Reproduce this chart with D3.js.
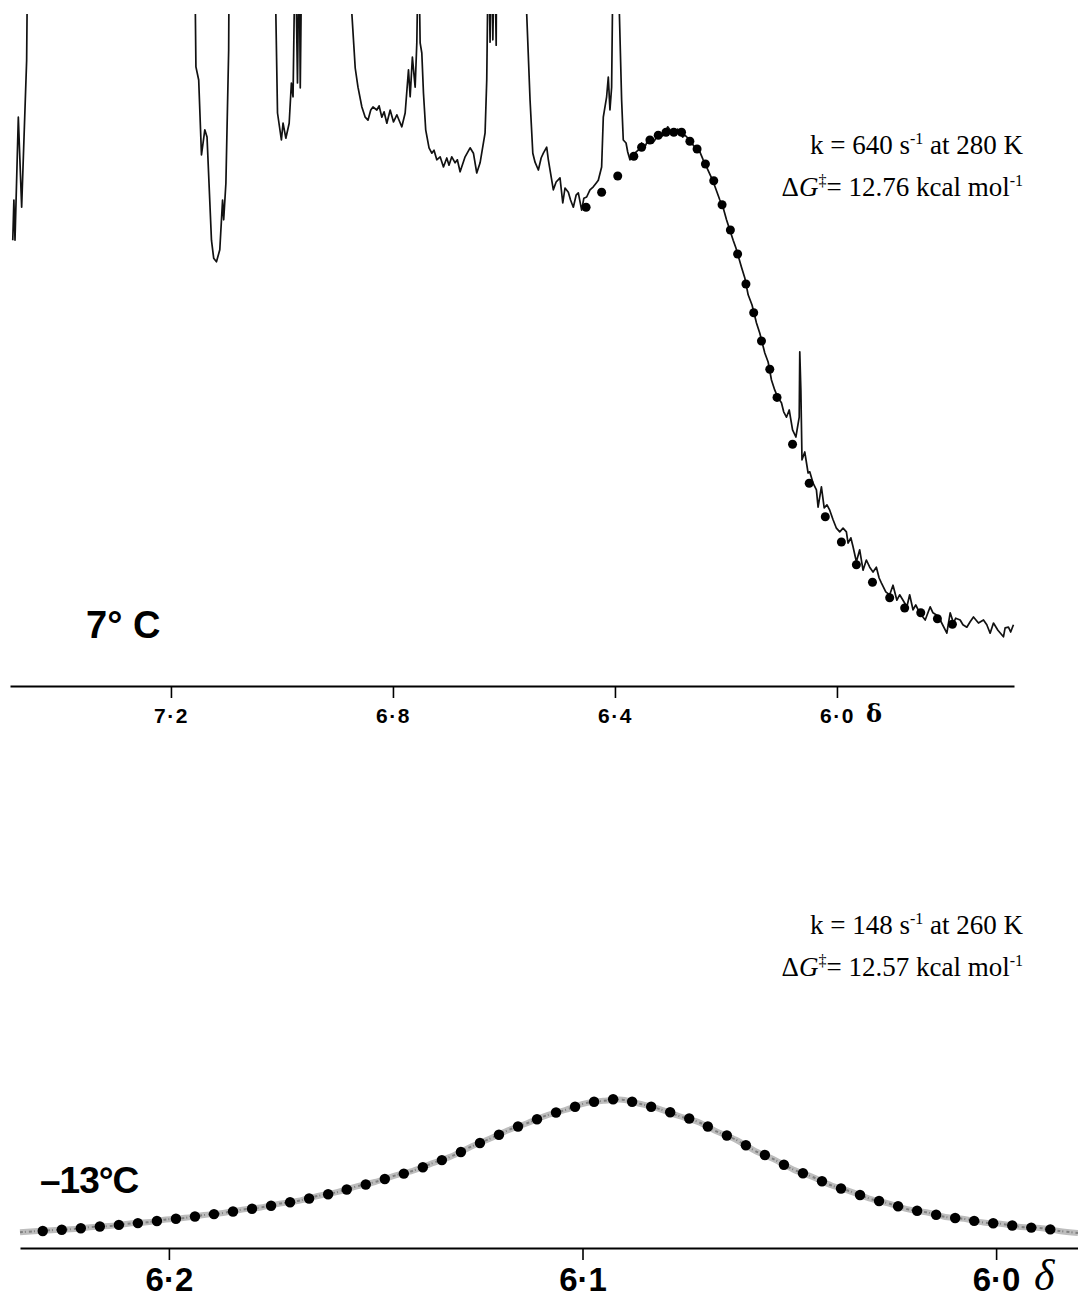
<!DOCTYPE html>
<html>
<head>
<meta charset="utf-8">
<script src="https://cdn.jsdelivr.net/npm/d3@7"></script>
<style>
  body { margin: 0; background: #fff; }
  svg { display: block; }
</style>
</head>
<body>
<div id="chart"></div>
<script>
// 7 C spectrum, [ppm, intensity]. 125 = goes off the top of the plot
const top_spectrum = [
  [7.485,74.3],[7.483,81],[7.481,74.3],[7.475,94.8],[7.469,79.8],[7.460,104.3],[7.458,125],
  [7.159,125],[7.156,112],[7.155,103.2],[7.150,101],[7.145,88.5],[7.139,92.7],[7.135,91.5],[7.127,74.3],[7.123,71.3],[7.118,70.7],[7.112,72.7],[7.107,81],[7.105,77.7],[7.101,83.8],[7.096,106],[7.095,125],
  [7.014,125],[7.011,112],[7.008,95.5],[7.001,91],[6.998,93.8],[6.993,91.3],[6.987,93.8],[6.983,100.5],[6.980,98.2],[6.976,125],[6.972,100.5],[6.969,125],[6.967,99.7],[6.964,125],
  [6.878,125],[6.874,112],[6.868,103],[6.863,99.8],[6.856,96.5],[6.850,94.8],[6.845,94.3],[6.840,96],[6.836,96.5],[6.829,96],[6.825,96.7],[6.820,94.8],[6.816,95.7],[6.811,93.8],[6.805,96],[6.799,94],[6.793,95.2],[6.789,94.3],[6.784,93.2],[6.778,95.5],[6.772,102.7],[6.769,98.2],[6.765,104.8],[6.760,99.8],[6.757,107.2],[6.754,125],[6.751,107.2],[6.748,105.5],[6.745,98.8],[6.741,92.7],[6.735,89.7],[6.730,88.8],[6.726,89.3],[6.721,87.7],[6.715,88.2],[6.709,86.5],[6.703,88],[6.699,86.8],[6.694,88.2],[6.688,87.2],[6.684,87.7],[6.679,85.7],[6.670,88.2],[6.661,89.7],[6.655,88.8],[6.649,85.5],[6.643,87.2],[6.634,92.2],[6.631,101],[6.628,125],[6.625,107.3],[6.623,125],[6.620,107.7],[6.617,125],[6.614,106.8],[6.613,125],
  [6.562,125],[6.559,112],[6.553,97.7],[6.548,88.8],[6.544,87.3],[6.538,86],[6.533,88],[6.529,88.8],[6.523,89.8],[6.520,87.7],[6.511,82.7],[6.506,84],[6.499,84.7],[6.494,80.5],[6.490,83],[6.484,82.3],[6.480,81],[6.475,79.8],[6.470,81.8],[6.466,82.2],[6.460,79.3],[6.456,81.3],[6.451,81.5],[6.445,82.7],[6.439,83.2],[6.434,83.8],[6.430,84.3],[6.424,86.5],[6.421,94.8],[6.415,98.2],[6.412,101.5],[6.409,96],[6.406,99.8],[6.403,125],
  [6.395,125],[6.392,112],[6.388,97.7],[6.385,91],[6.380,90.5],[6.377,89],[6.373,87.7],[6.367,88.2],[6.362,89],[6.358,89.3],[6.352,90.5],[6.346,89.8],[6.341,91],[6.337,91.3],[6.332,90.5],[6.328,91],[6.323,92],[6.319,92.2],[6.314,91.7],[6.310,92.3],[6.305,93.2],[6.301,92.7],[6.296,91.8],[6.292,92.3],[6.287,92.8],[6.283,92.3],[6.278,91.5],[6.274,91.8],[6.265,91],[6.258,90],[6.250,89.7],[6.241,87.7],[6.234,86.3],[6.226,84.7],[6.220,83.3],[6.211,81],[6.205,79.7],[6.199,77.7],[6.187,74.3],[6.182,73],[6.172,69.8],[6.166,68],[6.160,65.2],[6.153,63.5],[6.145,60.5],[6.139,58.8],[6.130,55.5],[6.124,54],[6.118,51],[6.112,49.3],[6.106,48],[6.100,47.2],[6.096,45.7],[6.091,44.8],[6.086,46],[6.080,42.7],[6.074,41.5],[6.068,44.8],[6.067,55.7],[6.065,49.3],[6.063,37.7],[6.058,39],[6.052,35.5],[6.049,35.7],[6.043,33.8],[6.037,32.7],[6.034,29.8],[6.028,33.2],[6.023,29.7],[6.018,30.2],[6.013,29.3],[6.007,27.7],[6.001,26.3],[5.995,25.7],[5.989,26.3],[5.983,25.7],[5.980,23.8],[5.975,24.7],[5.971,23.2],[5.965,20.7],[5.959,22.7],[5.953,19.3],[5.947,21],[5.941,19.8],[5.935,19],[5.929,19.8],[5.924,18],[5.920,17.2],[5.912,15.7],[5.905,15.2],[5.899,16.8],[5.892,14.3],[5.887,15.2],[5.881,14.3],[5.874,13.2],[5.869,15.2],[5.863,12.7],[5.858,13.5],[5.851,12.2],[5.841,11],[5.832,13.2],[5.827,12.2],[5.820,11.8],[5.814,11],[5.802,8.8],[5.796,12.2],[5.790,10.5],[5.786,11.3],[5.778,11],[5.773,10.2],[5.766,9.8],[5.760,10.7],[5.754,11.5],[5.745,10.5],[5.736,11],[5.730,10.2],[5.724,8.8],[5.718,10.5],[5.710,9.3],[5.700,8.2],[5.697,9.7],[5.691,9.8],[5.687,9],[5.682,10.2]
]

// simulated lineshape at 7 C (dots)
const top_fit = [
  [6.452,79.8],[6.424,82.3],[6.395,85],[6.366,88.3],[6.352,89.8],[6.337,91],[6.322,91.8],[6.308,92.3],[6.294,92.3],[6.280,92.3],[6.265,90.8],[6.252,89.5],[6.237,87],[6.222,84.2],[6.207,80.2],[6.192,76],[6.179,72],[6.164,67],[6.150,62.2],[6.136,57.5],[6.121,52.8],[6.108,48.1],[6.080,40.3],[6.050,33.8],[6.021,28.2],[5.992,24],[5.965,20.2],[5.936,17.3],[5.905,14.7],[5.878,13],[5.849,12.2],[5.819,11.2],[5.792,10.3]
]

// -13 C spectrum (grey trace)
const bottom_spectrum = [
  [6.2360,10.5],[6.2283,11.9],[6.2237,12.5],[6.2191,13.9],[6.2145,14.6],[6.2099,16.2],[6.2053,17.1],[6.2007,19.0],[6.1961,20.1],[6.1915,22.0],[6.1869,23.3],[6.1823,25.6],[6.1778,27.0],[6.1732,29.6],[6.1686,31.5],[6.1640,34.7],[6.1594,37.2],[6.1548,40.9],[6.1502,44.0],[6.1456,48.1],[6.1410,51.5],[6.1364,56.4],[6.1318,61.0],[6.1272,67.2],[6.1226,72.6],[6.1180,78.5],[6.1134,83.2],[6.1088,88.3],[6.1042,92.0],[6.0996,96.3],[6.0950,98.1],[6.0904,98.9],[6.0859,96.0],[6.0813,92.6],[6.0767,88.0],[6.0721,84.1],[6.0675,77.6],[6.0629,72.2],[6.0583,64.8],[6.0537,59.1],[6.0491,52.4],[6.0445,47.5],[6.0399,41.8],[6.0353,37.8],[6.0307,33.0],[6.0261,29.8],[6.0215,25.9],[6.0169,23.8],[6.0123,20.7],[6.0077,19.4],[6.0031,17.0],[5.9985,16.0],[5.9940,14.0],[5.9894,13.3],[5.9848,11.4],[5.9802,10.0]
]

// simulated lineshape at -13 C (dots)
const bottom_fit = [
  [6.2305,11.3],[6.2259,12.2],[6.2213,13.2],[6.2167,14.3],[6.2121,15.4],[6.2075,16.6],[6.2029,18],[6.1983,19.5],[6.1937,21],[6.1891,22.6],[6.1845,24.3],[6.1799,26.2],[6.1753,28.2],[6.1707,30.5],[6.1661,33],[6.1615,35.8],[6.1570,39],[6.1524,42.3],[6.1478,46],[6.1432,49.6],[6.1386,53.8],[6.1340,58.6],[6.1294,64],[6.1248,70],[6.1202,75.5],[6.1156,81],[6.1110,85.8],[6.1064,90.3],[6.1018,94.2],[6.0972,97.5],[6.0926,99.2],[6.0880,97.5],[6.0834,94.2],[6.0788,90.5],[6.0742,86.3],[6.0697,81],[6.0651,75],[6.0605,68.5],[6.0559,62],[6.0513,55.5],[6.0467,49.8],[6.0421,44.5],[6.0375,39.7],[6.0329,35.3],[6.0283,31.3],[6.0237,27.8],[6.0191,24.8],[6.0145,22.2],[6.0099,20],[6.0053,18.1],[6.0007,16.5],[5.9961,15],[5.9915,13.6],[5.9869,12.4]
]

const top_ticks = [7.2, 6.8, 6.4, 6.0]
const bottom_ticks = [6.2, 6.1, 6.0]
const temp_labels = ['7° C', '–13°C']
const rate_constants = ['640', '148']
const temps_K = ['280', '260']
const free_energies = ['12.76', '12.57']

const width = 1078, height = 1299
const fmt_tick = d => d.toFixed(1).replace('.', '·')

const svg = d3.select('#chart')
    .append('svg')
    .attr('width', width)
    .attr('height', height)

svg.append('rect')
    .attr('width', width)
    .attr('height', height)
    .attr('fill', '#fff')

// ---- top panel (7 C) ----
const x_top = d3.scaleLinear()
    .domain([7.490, 5.681])
    .range([10, 1014])
const y_top = d3.scaleLinear()
    .domain([0, 100])
    .range([686, 86])

svg.append('clipPath')
    .attr('id', 'top-clip')
    .append('rect')
    .attr('x', 0)
    .attr('y', 14)
    .attr('width', width)
    .attr('height', 686 - 14)

const top_line = d3.line()
    .x(d => x_top(d[0]))
    .y(d => y_top(d[1]))

svg.append('path')
    .datum(top_spectrum)
    .attr('clip-path', 'url(#top-clip)')
    .attr('fill', 'none')
    .attr('stroke', '#111')
    .attr('stroke-width', 1.7)
    .attr('stroke-linejoin', 'round')
    .attr('d', top_line)

svg.append('g')
    .selectAll('circle')
    .data(top_fit)
    .join('circle')
    .attr('cx', d => x_top(d[0]))
    .attr('cy', d => y_top(d[1]))
    .attr('r', 4.5)
    .attr('fill', '#000')

const top_axis = svg.append('g')
    .attr('transform', 'translate(0,686)')
    .call(d3.axisBottom(x_top)
        .tickValues(top_ticks)
        .tickFormat(fmt_tick)
        .tickSize(12)
        .tickSizeOuter(0))
top_axis.select('.domain').attr('stroke-width', 2.2).attr('stroke', '#000')
top_axis.selectAll('.tick line').attr('stroke-width', 1.6).attr('stroke', '#000')
top_axis.selectAll('.tick text')
    .attr('y', 37)
    .attr('dy', 0)
    .attr('fill', '#000')
    .attr('font-family', 'Liberation Sans, Arial, sans-serif')
    .attr('font-weight', 'bold')
    .attr('font-size', 21)
    .attr('letter-spacing', 1.5)

svg.append('text')
    .attr('x', 866)
    .attr('y', 722)
    .style('font-family', 'DejaVu Serif, serif')
    .style('font-weight', 'bold')
    .style('font-size', '24px')
    .text('δ')

// ---- bottom panel (-13 C) ----
const x_bot = d3.scaleLinear()
    .domain([6.236, 5.9802])
    .range([20, 1078])
const y_bot = d3.scaleLinear()
    .domain([0, 100])
    .range([1248, 1098])

const bot_line = d3.line()
    .x(d => x_bot(d[0]))
    .y(d => y_bot(d[1]))
    .curve(d3.curveCatmullRom)

svg.append('path')
    .datum(bottom_spectrum)
    .attr('fill', 'none')
    .attr('stroke', '#bdbdbd')
    .attr('stroke-width', 6)
    .attr('d', bot_line)
svg.append('path')
    .datum(bottom_spectrum)
    .attr('fill', 'none')
    .attr('stroke', '#808080')
    .attr('stroke-width', 2)
    .attr('stroke-dasharray', '3 2 1 3')
    .attr('d', bot_line)

svg.append('g')
    .selectAll('circle')
    .data(bottom_fit)
    .join('circle')
    .attr('cx', d => x_bot(d[0]))
    .attr('cy', d => y_bot(d[1]))
    .attr('r', 5.2)
    .attr('fill', '#000')

const bot_axis = svg.append('g')
    .attr('transform', 'translate(0,1248)')
    .call(d3.axisBottom(x_bot)
        .tickValues(bottom_ticks)
        .tickFormat(fmt_tick)
        .tickSize(12)
        .tickSizeOuter(0))
bot_axis.select('.domain').attr('stroke-width', 2.2).attr('stroke', '#000')
bot_axis.selectAll('.tick line').attr('stroke-width', 1.6).attr('stroke', '#000')
bot_axis.selectAll('.tick text')
    .attr('y', 43)
    .attr('dy', 0)
    .attr('fill', '#000')
    .attr('font-family', 'Liberation Sans, Arial, sans-serif')
    .attr('font-weight', 'bold')
    .attr('font-size', 33)

svg.append('text')
    .attr('x', 1034)
    .attr('y', 1290)
    .style('font-family', 'Liberation Serif, serif')
    .style('font-style', 'italic')
    .style('font-size', '44px')
    .text('δ')

// temperature labels
svg.append('text')
    .attr('x', 86)
    .attr('y', 638)
    .style('font-family', 'Liberation Sans, Arial, sans-serif')
    .style('font-weight', 'bold')
    .style('font-size', '38px')
    .text(temp_labels[0])
svg.append('text')
    .attr('x', 40)
    .attr('y', 1193)
    .style('font-family', 'Liberation Sans, Arial, sans-serif')
    .style('font-weight', 'bold')
    .style('font-size', '37px')
    .style('letter-spacing', '-1px')
    .text(temp_labels[1])

// rate / barrier notes
const draw_note = (y, k, T, dG) => {
    const g = svg.append('g')
        .style('font-family', 'Liberation Serif, Times New Roman, serif')
        .style('font-size', '27px')

    const t1 = g.append('text')
        .attr('x', 1023)
        .attr('y', y)
        .attr('text-anchor', 'end')
    t1.append('tspan').text(`k = ${k} s`)
    t1.append('tspan').attr('dy', -10).style('font-size', '16px').text('-1')
    t1.append('tspan').attr('dy', 10).text(` at ${T} K`)

    const t2 = g.append('text')
        .attr('x', 1023)
        .attr('y', y + 42)
        .attr('text-anchor', 'end')
    t2.append('tspan').text('Δ')
    t2.append('tspan').style('font-style', 'italic').text('G')
    t2.append('tspan').attr('dy', -10).style('font-size', '16px').text('‡')
    t2.append('tspan').attr('dy', 10).text(`= ${dG} kcal mol`)
    t2.append('tspan').attr('dy', -10).style('font-size', '16px').text('-1')
}

draw_note(154, rate_constants[0], temps_K[0], free_energies[0])
draw_note(934, rate_constants[1], temps_K[1], free_energies[1])
</script>
</body>
</html>
